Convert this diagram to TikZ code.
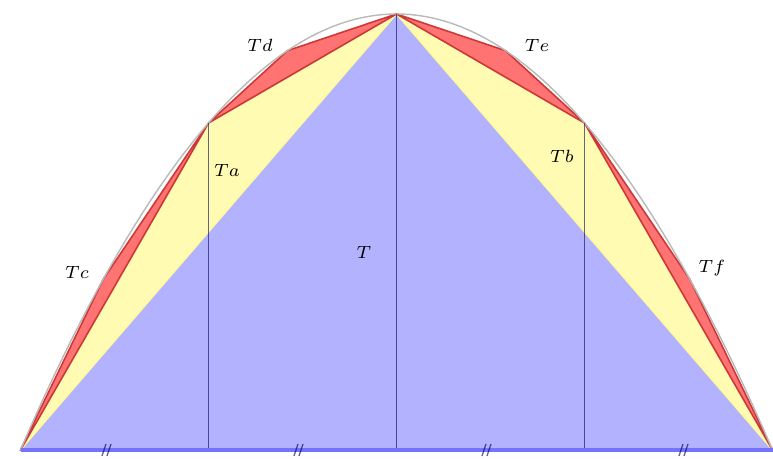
\documentclass[tikz,border=0pt]{standalone}
\usepackage{xcolor}
\usetikzlibrary{math}

\definecolor{edgered}{RGB}{205,55,55}

\tikzset{
  bigtri/.style={fill=blue!30, draw=blue!30},
  midtri/.style={fill=yellow!30, draw=yellow!40},
  smalltri/.style={fill=red!55, draw=edgered, line width=0.45pt, line join=round},
  vline/.style={draw=blue!35!black, opacity=0.6, line width=0.5pt},
  lbl/.style={font=\scriptsize, transform shape, scale=0.72, inner sep=1pt}
}

\begin{document}
\begin{tikzpicture}
  \def\xm{3.965}  % axis of the parabola
  \def\hw{3.76}   % half width
  \def\yb{0.09}   % base line
  \def\hv{4.36}   % height of the vertex

  \useasboundingbox (0,0) rectangle (7.73,4.59);

  \coordinate (A) at ({\xm-\hw},\yb);
  \coordinate (B) at ({\xm+\hw},\yb);
  \coordinate (V) at (\xm,{\yb+\hv});
  \coordinate (P) at ({\xm-0.5*\hw},{\yb+0.75*\hv});
  \coordinate (Q) at ({\xm+0.5*\hw},{\yb+0.75*\hv});
  \coordinate (C) at ({\xm-0.78*\hw},{\yb+(1-0.78*0.78)*\hv});
  \coordinate (D) at ({\xm-0.29*\hw},{\yb+(1-0.29*0.29)*\hv});
  \coordinate (E) at ({\xm+0.29*\hw},{\yb+(1-0.29*0.29)*\hv});
  \coordinate (F) at ({\xm+0.78*\hw},{\yb+(1-0.78*0.78)*\hv});
  \coordinate (P0) at ({\xm-0.5*\hw},\yb);
  \coordinate (V0) at (\xm,\yb);
  \coordinate (Q0) at ({\xm+0.5*\hw},\yb);

  % triangles
  \draw[bigtri] (A) -- (V) -- (B) -- cycle;
  \draw[midtri] (A) -- (P) -- (V) -- cycle;
  \draw[midtri] (V) -- (Q) -- (B) -- cycle;
  \draw[smalltri] (A) -- (C) -- (P) -- cycle;
  \draw[smalltri] (P) -- (D) -- (V) -- cycle;
  \draw[smalltri] (V) -- (E) -- (Q) -- cycle;
  \draw[smalltri] (Q) -- (F) -- (B) -- cycle;

  % parabola
  \draw[gray!55, line width=0.4pt] plot[domain={\xm-\hw}:{\xm+\hw}, samples=80, smooth]
    (\x, {\yb+\hv*(1-((\x-\xm)/\hw)^2)});

  % verticals and base
  \draw[vline] (P) -- (P0);
  \draw[vline] (V) -- (V0);
  \draw[vline] (Q) -- (Q0);
  \draw[blue!55, line width=1.2pt] (A) -- (B);

  % equal parts
  \draw[blue!40!black, opacity=0.6, line width=0.4pt]
    (1.02,0.03) -- (1.06,0.15) (1.07,0.03) -- (1.11,0.15)
    (2.94,0.03) -- (2.98,0.15) (2.99,0.03) -- (3.03,0.15)
    (4.82,0.03) -- (4.86,0.15) (4.87,0.03) -- (4.91,0.15)
    (6.79,0.03) -- (6.83,0.15) (6.84,0.03) -- (6.88,0.15);

  % labels
  \node[lbl] (tT) at (3.64,2.07) {$T$};
  \node[lbl] (ta) at (2.27,2.89) {$Ta$};
  \node[lbl] (tb) at (5.62,3.03) {$Tb$};
  \node[lbl] (tc) at (0.77,1.87) {$Tc$};
  \node[lbl] (td) at (2.60,4.14) {$Td$};
  \node[lbl] (te) at (5.37,4.14) {$Te$};
  \node[lbl] (tf) at (7.12,1.91) {$Tf$};

\end{tikzpicture}
\end{document}
